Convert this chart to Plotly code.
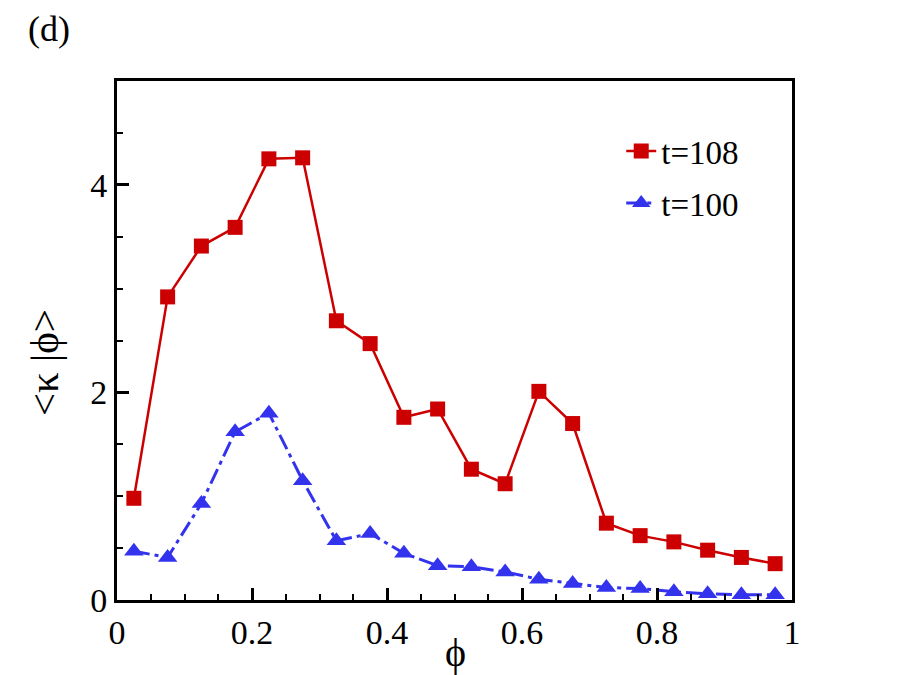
import plotly.graph_objects as go

phi = [0.025, 0.075, 0.125, 0.175, 0.225, 0.275, 0.325, 0.375, 0.425, 0.475,
       0.525, 0.575, 0.625, 0.675, 0.725, 0.775, 0.825, 0.875, 0.925, 0.975]
kappa_t108 = [0.98, 2.92, 3.41, 3.59, 4.25, 4.26, 2.69, 2.47, 1.76, 1.84,
              1.26, 1.12, 2.01, 1.70, 0.74, 0.62, 0.56, 0.48, 0.41, 0.35]
kappa_t100 = [0.47, 0.41, 0.93, 1.62, 1.80, 1.15, 0.57, 0.64, 0.45, 0.33,
              0.32, 0.27, 0.20, 0.16, 0.12, 0.11, 0.08, 0.06, 0.05, 0.05]
series_names = ["t=108", "t=100"]
x_ticks = [0, 0.2, 0.4, 0.6, 0.8, 1]
x_tick_labels = ["0", "0.2", "0.4", "0.6", "0.8", "1"]
y_ticks = [0, 2, 4]
y_tick_labels = ["0", "2", "4"]

FONT = "Liberation Serif"
RED = "#CC0000"
BLUE = "#3333EE"

# The page body has an 8px default margin; the figure is sized to fit the 900x675 window.
W, H = 892, 667
ML, MT = 109, 73
PW, PH = 675, 519

fig = go.Figure()
fig.add_trace(go.Scatter(
    x=phi, y=kappa_t108, name=series_names[0], mode="lines+markers",
    legendgroup="a",
    line=dict(color=RED, width=2.5),
    marker=dict(symbol="square", size=15, color=RED),
))
fig.add_trace(go.Scatter(
    x=phi, y=kappa_t100, name=series_names[1], mode="lines+markers",
    legendgroup="b",
    line=dict(color=BLUE, width=3, dash="16px,5px,4px,5px"),
    marker=dict(symbol="triangle-up", size=17, color=BLUE),
))

axis_common = dict(
    showgrid=False, zeroline=False, showline=True, linecolor="black",
    linewidth=3, mirror=True, ticks="inside", ticklen=12, tickwidth=2.5,
    tickcolor="black", tickfont=dict(family=FONT, size=34, color="black"),
)

fig.update_xaxes(
    range=[0, 1], tickvals=x_ticks, ticktext=x_tick_labels,
    minor=dict(dtick=0.05, ticks="inside", ticklen=6, tickwidth=1.5, tickcolor="black", showgrid=False),
    **axis_common,
)
fig.update_yaxes(
    range=[0, 5], tickvals=y_ticks, ticktext=y_tick_labels,
    minor=dict(dtick=0.5, ticks="inside", ticklen=6, tickwidth=1.5, tickcolor="black", showgrid=False),
    **axis_common,
)

# screen-pixel helpers (plot area spans x 117..792, y 81..600 on screen)
def px(sx):
    return (sx - 117) / PW

def py(sy):
    return (600 - sy) / PH

fig.add_annotation(text="ϕ", xref="paper", yref="paper", x=px(455), y=py(652),
                   showarrow=False, font=dict(family=FONT, size=40, color="black"),
                   xanchor="center", yanchor="middle")
fig.add_annotation(text="<κ |ϕ>", xref="paper", yref="paper", x=px(44), y=py(363),
                   showarrow=False, textangle=-90,
                   font=dict(family=FONT, size=41, color="black"),
                   xanchor="center", yanchor="middle")
fig.add_annotation(text="(d)", xref="paper", yref="paper", x=px(26), y=py(29),
                   showarrow=False, font=dict(family=FONT, size=36, color="black"),
                   xanchor="left", yanchor="middle")

fig.update_layout(
    width=W, height=H,
    margin=dict(l=ML, r=W - ML - PW, t=MT, b=H - MT - PH),
    paper_bgcolor="white", plot_bgcolor="white",
    font=dict(family=FONT, color="black"),
    showlegend=True,
    legend=dict(x=0.747, y=0.919, xanchor="left", yanchor="top",
                tracegroupgap=6,
                bgcolor="rgba(0,0,0,0)", borderwidth=0,
                font=dict(family=FONT, size=33, color="black")),
)

fig.write_html("out.html")
